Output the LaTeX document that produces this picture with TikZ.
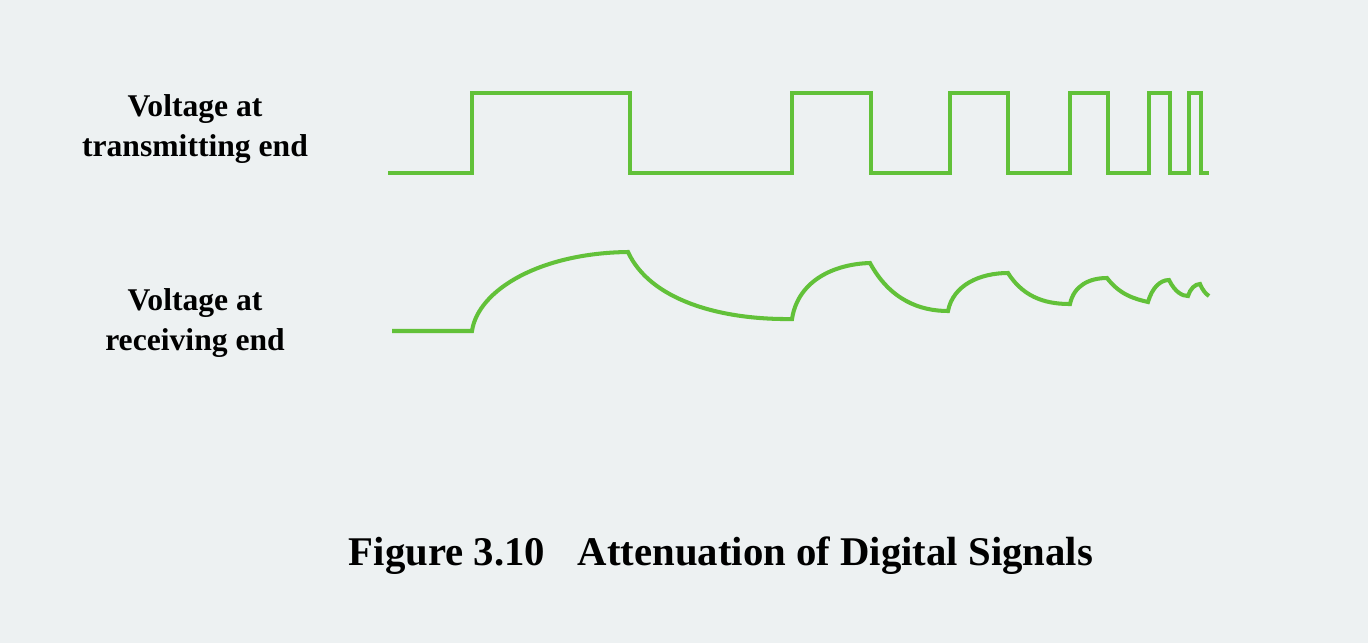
\documentclass[tikz,border=0pt]{standalone}
\usepackage{fontspec}
\setmainfont{Liberation Serif}
\definecolor{bg}{RGB}{237,241,242}
\definecolor{sig}{RGB}{98,193,57}
\begin{document}
\begin{tikzpicture}[x=0.02cm,y=-0.02cm,
  signal/.style={draw=sig,line width=2.3pt,line join=miter},
  label/.style={align=center,font=\fontsize{18}{22.7}\selectfont\bfseries,inner sep=0pt},
  caption/.style={font=\fontsize{23.2}{28}\selectfont\bfseries,inner sep=0pt}]
\fill[bg] (0,0) rectangle (1368,643);
\useasboundingbox (0,0) rectangle (1368,643);
\node[label] (tx) at (195,129) {Voltage at\\transmitting end};
\node[label] (rx) at (195,323) {Voltage at\\receiving end};
\node[caption] (cap) at (721,556) {Figure 3.10\hspace{0.8em}Attenuation of Digital Signals};
\draw[signal] (388,173) -- (472,173) -- (472,93) -- (630,93) -- (630,173) -- (792,173) -- (792,93) -- (871,93) -- (871,173) -- (950,173) -- (950,93) -- (1008,93) -- (1008,173) -- (1070,173) -- (1070,93) -- (1108,93) -- (1108,173) -- (1149,173) -- (1149,93) -- (1170,93) -- (1170,173) -- (1189,173) -- (1189,93) -- (1201,93) -- (1201,173) -- (1209,173);
\draw[signal] (392,331) -- (472,331)
  .. controls (478,290) and (540,253) .. (628,252)
  .. controls (650,300) and (720,320) .. (792,319)
  .. controls (798,280) and (835,264) .. (870,263)
  .. controls (890,300) and (920,311) .. (948,311)
  .. controls (953,285) and (980,273) .. (1008,273)
  .. controls (1025,300) and (1050,304) .. (1070,304)
  .. controls (1074,285) and (1090,278) .. (1107,278)
  .. controls (1120,295) and (1135,299) .. (1148,302)
  .. controls (1152,288) and (1160,280) .. (1169,280)
  .. controls (1175,292) and (1182,296) .. (1188,296)
  .. controls (1190,289) and (1195,284) .. (1200,284)
  .. controls (1203,291) and (1206,294) .. (1209,296);
\end{tikzpicture}
\end{document}
